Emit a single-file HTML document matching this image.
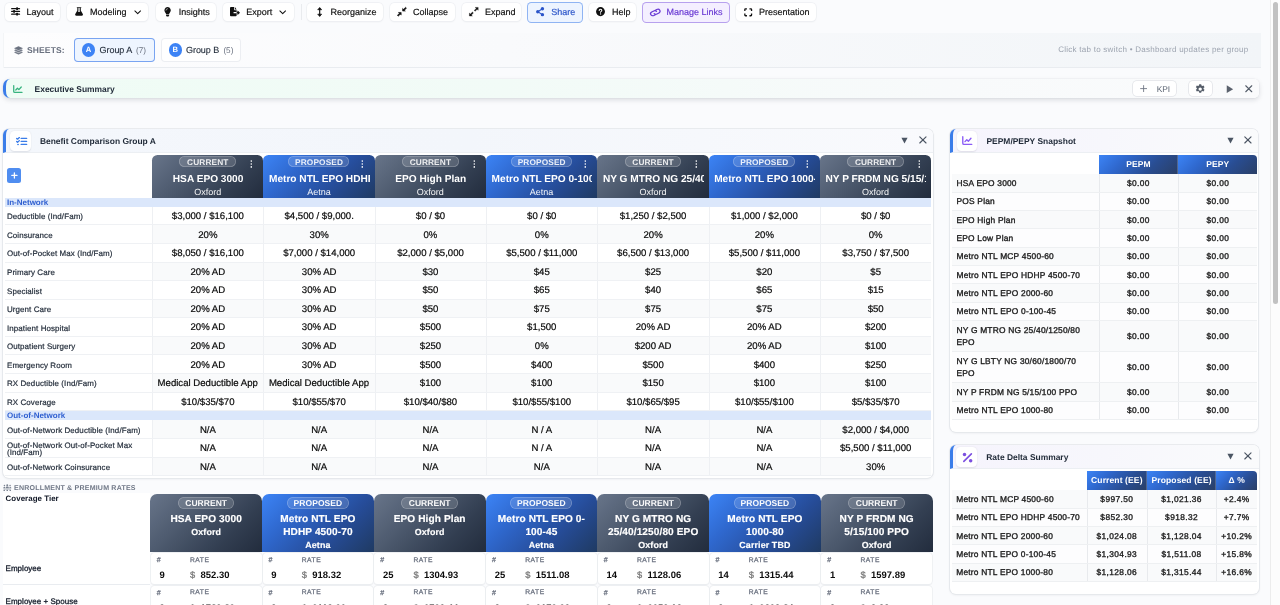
<!DOCTYPE html>
<html lang="en"><head><meta charset="utf-8"><title>Benefit Comparison Dashboard</title><style>
*{box-sizing:border-box}
html,body{margin:0;padding:0}
body{width:1280px;height:605px;overflow:hidden;position:relative;background:#fafbfd;font-family:"Liberation Sans",sans-serif;color:#111827;text-rendering:geometricPrecision}
div,svg,span{position:absolute}
.ic{display:block;overflow:visible}
.t{white-space:nowrap;line-height:1}
.m{-webkit-text-stroke:.28px currentColor}
.btn{background:#fff;border-radius:4.500px;box-shadow:0 0 0 .7px #eef0f3,0 .8px 1.800px rgba(16,24,40,.07);color:#111}
.btn.blue{background:#edf4ff;box-shadow:inset 0 0 0 1px #8fb4f3;color:#2b55c9}
.btn.pur{background:#f4efff;box-shadow:inset 0 0 0 1px #b7a1ee;color:#6a3ad4}

#sheets{background:linear-gradient(90deg,#fdfdfe 0%,#f9fafc 40%,#f2f5f8 100%);box-shadow:inset 1px 0 0 #f3f5f7,inset 0 -1px 0 #e9ecf0}
.tab{border-radius:4px;color:#1f2937}
.tab i{position:absolute;border-radius:50%;background:#3d83f5;color:#fff;font-weight:bold;font-style:normal;font-size:7.600px;text-align:center}

#exec{border-radius:7px 5px 5px 7px;background:linear-gradient(90deg,#effcf5 0%,#f2fbf7 40%,#f8fafb 75%,#fafbfc 100%);border-left:3px solid #3b7de9;box-shadow:0 2px 5px rgba(15,23,42,.13),0 0 0 .5px rgba(15,23,42,.04)}
.sbtn{background:#fff;border-radius:4px;box-shadow:0 0 0 .8px #e2e4e8}

.panel{background:#fff;border-radius:6px;box-shadow:0 0 0 .8px #e3e6ea,0 1px 3px rgba(15,23,42,.08)}
.ph{border-radius:6px 6px 0 0;border-left:3px solid #3b7de9;border-bottom:1px solid #eceff3}
.ib{border-radius:4.500px;background:#fff;box-shadow:0 .5px 1.600px rgba(15,23,42,.10)}
.ttl{font-weight:bold;color:#1f2937}

.gc{background:linear-gradient(135deg,#68758a 0%,#4a576b 40%,#333f52 70%,#222c3d 100%)}
.gp{background:linear-gradient(135deg,#3c84f6 0%,#2f68ce 30%,#264c98 66%,#1f3a62 100%)}
.ch{color:#fff;overflow:hidden}
.badge{border-radius:7px;background:rgba(255,255,255,.14);box-shadow:inset 0 0 0 .8px rgba(255,255,255,.26)}
.bt{font-weight:bold;color:rgba(255,255,255,.88)}
.nm{font-weight:bold;overflow:hidden;color:#fff}
.cr{color:rgba(255,255,255,.94)}
.sec{background:#dbe7fb;color:#2f5fd0}
.sec .t{font-weight:bold}
.row{border-bottom:1px solid #eff1f4;background:#fff}
.row u{position:absolute;top:0;bottom:0;text-decoration:none;border-left:1px solid #eef0f3}
.row u.a{background:#f9fafb}
.lb{color:#1f2937;letter-spacing:.1px;-webkit-text-stroke-width:.2px}
.v{color:#0a0a0a;overflow:hidden;text-align:center;-webkit-text-stroke:.2px #0a0a0a}

.c0{background:#fff;border-bottom:1px solid #e9ecf0}
.cell{background:#fff;border-radius:3.500px;box-shadow:0 0 0 .7px #eceef1,0 .9px 1.600px rgba(15,23,42,.08)}
.hh{color:#6b7280;letter-spacing:.6px}
.n{font-weight:bold;color:#0b0b0b}
.d{color:#787878;-webkit-text-stroke:.25px #787878}
.nm2{font-weight:bold;color:#fff;letter-spacing:.1px;-webkit-text-stroke:.15px #fff}

.hc{color:#fff;background:linear-gradient(135deg,#3c84f6 0%,#2f68ce 30%,#294d92 66%,#2a3f66 100%)}
.hc .t{font-weight:bold;text-align:center;left:0;right:0}
.rr{border-bottom:1px solid #eef0f2;background:#fdfdfe}
.rr.alt{background:#f9fafb}
.rr u{position:absolute;top:0;bottom:0;text-decoration:none;border-left:1px solid #e8eaed}
.l{color:#1a1a1a;letter-spacing:.21px;-webkit-text-stroke-width:.33px}
.rv{color:#1a1a1a;letter-spacing:.38px;text-align:center;-webkit-text-stroke-width:.33px}

#sbt{background:#fcfcfc;box-shadow:inset 1px 0 0 #ececec}
#sbh{border-radius:3px;background:#c1c1c1}
</style></head><body>
<div id="toolbar" style="left:0;top:0;width:1270px;height:24px">
<div class="btn " style="left:4.8px;top:2.7px;width:54.8px;height:18.7px"><svg class="ic" viewBox="0 0 16 16" preserveAspectRatio="none" style="left:6px;top:4.4px;width:9.2px;height:8.8px"><g fill="none" stroke="currentColor" stroke-width="2.500" stroke-linecap="round"><path d="M1.300 3h13.400M1.300 8h13.400M1.300 13h13.400"/></g><g fill="currentColor"><rect x="9" y=".6" width="3.200" height="4.800" rx="1"/><rect x="3.800" y="5.600" width="3.200" height="4.800" rx="1"/><rect x="9" y="10.600" width="3.200" height="4.800" rx="1"/></g></svg><span class="t m" style="left:21.7px;top:5.3px;font-size:9.0px;-webkit-text-stroke-width:.18px;">Layout</span></div>
<div class="btn " style="left:66.9px;top:2.7px;width:81.3px;height:18.7px"><svg class="ic" viewBox="0 0 14 16" preserveAspectRatio="none" style="left:7.8px;top:4.6px;width:8.1px;height:8.9px"><path fill="currentColor" d="M3.600.3h6.800c.5 0 .8.400.8.800s-.3.800-.8.800H10v4.300l3.500 6.400c.8 1.400-.2 3.100-1.800 3.100H2.300C.7 15.700-.3 14 .5 12.600L4 6.200V1.900h-.4c-.5 0-.8-.4-.8-.8s.3-.8.800-.8z"/><path fill="#fff" d="M5.900 1.900h2.200v4.800l1.100 2H4.800l1.100-2z"/></svg><span class="t m" style="left:23.1px;top:5.3px;font-size:9.0px;-webkit-text-stroke-width:.18px;">Modeling</span><svg class="ic" viewBox="0 0 12 8" preserveAspectRatio="none" style="left:66.8px;top:7.1px;width:7.4px;height:4.7px"><path fill="none" stroke="currentColor" stroke-width="1.700" stroke-linecap="round" stroke-linejoin="round" d="M1.400 1.600 6 6.200l4.600-4.600"/></svg></div>
<div class="btn " style="left:155.6px;top:2.7px;width:60.2px;height:18.7px"><svg class="ic" viewBox="0 0 12 16" preserveAspectRatio="none" style="left:8.4px;top:4.3px;width:7.2px;height:9.6px"><path fill="currentColor" d="M6 .2a5.300 5.300 0 0 0-4 8.800c.7.8 1.300 1.700 1.400 2.700v.3h5.200v-.3c.1-1 .7-1.900 1.400-2.700A5.300 5.300 0 0 0 6 .2zM3.400 13h5.200v1c0 .3-.1.600-.3.800l-.5.700c-.2.300-.5.500-.900.500H5.100c-.4 0-.7-.2-.9-.5l-.5-.7c-.2-.2-.3-.5-.3-.8z"/><path fill="none" stroke="#fff" stroke-width=".9" stroke-linecap="round" d="M3.300 5.300a2.700 2.700 0 0 1 2.600-2.600"/></svg><span class="t m" style="left:23.1px;top:5.3px;font-size:9.0px;-webkit-text-stroke-width:.18px;">Insights</span></div>
<div class="btn " style="left:223px;top:2.7px;width:70.8px;height:18.7px"><svg class="ic" viewBox="0 0 18 16" preserveAspectRatio="none" style="left:7.4px;top:4.5px;width:10px;height:9.2px"><path fill="currentColor" d="M0 1.600C0 .7.700 0 1.600 0h5.800v4.300c0 .7.500 1.200 1.200 1.200H12v3.400H7.300c-.7 0-1.200.5-1.200 1.100s.5 1.100 1.200 1.100H12v3.300c0 .9-.7 1.600-1.600 1.600H1.600C.7 16 0 15.300 0 14.400zM12 4.200H8.800V.2zM13.300 6.900c0-.5.600-.7.900-.4l3.400 3.100c.3.200.3.600 0 .800l-3.400 3.100c-.3.300-.9.100-.9-.4v-2H12V8.900h1.300z"/></svg><span class="t m" style="left:23.2px;top:5.3px;font-size:9.0px;-webkit-text-stroke-width:.18px;">Export</span><svg class="ic" viewBox="0 0 12 8" preserveAspectRatio="none" style="left:56.4px;top:7.1px;width:7.4px;height:4.7px"><path fill="none" stroke="currentColor" stroke-width="1.700" stroke-linecap="round" stroke-linejoin="round" d="M1.400 1.600 6 6.200l4.600-4.600"/></svg></div>
<div style="left:301.4px;top:4px;width:1px;height:16px;background:#e9ebee"></div>
<div class="btn " style="left:307.4px;top:2.7px;width:75.8px;height:18.7px"><svg class="ic" viewBox="0 0 8 16" preserveAspectRatio="none" style="left:9.5px;top:4.2px;width:5.4px;height:9.9px"><path fill="none" stroke="currentColor" stroke-width="1.700" stroke-linecap="round" stroke-linejoin="round" d="M4 2v12"/><path fill="currentColor" stroke="currentColor" stroke-width="1" stroke-linejoin="round" d="M4 .8 7 4.400H1zM4 15.200 7 11.600H1z"/></svg><span class="t m" style="left:23.2px;top:5.3px;font-size:9.0px;-webkit-text-stroke-width:.18px;">Reorganize</span></div>
<div class="btn " style="left:390px;top:2.7px;width:64.6px;height:18.7px"><svg class="ic" viewBox="0 0 16 16" preserveAspectRatio="none" style="left:7.2px;top:4.4px;width:9.8px;height:9.5px"><g fill="currentColor" stroke="currentColor" stroke-width="1" stroke-linejoin="round"><path d="M9.200 6.800V2.400l1.500 1.500L14 .6 15.400 2l-3.300 3.300 1.500 1.500z"/><path d="M6.800 9.200v4.400l-1.500-1.500L2 15.400.6 14l3.300-3.300-1.500-1.500z"/></g></svg><span class="t m" style="left:23px;top:5.3px;font-size:9.0px;-webkit-text-stroke-width:.18px;">Collapse</span></div>
<div class="btn " style="left:461.8px;top:2.7px;width:59px;height:18.7px"><svg class="ic" viewBox="0 0 16 16" preserveAspectRatio="none" style="left:6.8px;top:4.5px;width:9.6px;height:9.4px"><g fill="currentColor" stroke="currentColor" stroke-width=".6" stroke-linejoin="round"><path d="M15.300.7v4.900l-1.700-1.700-3.400 3.400-1.500-1.500 3.400-3.400L10.400.7z"/><path d="M.7 15.300v-4.900l1.700 1.700 3.400-3.400 1.500 1.500-3.400 3.400 1.700 1.700z"/></g></svg><span class="t m" style="left:23.2px;top:5.3px;font-size:9.0px;-webkit-text-stroke-width:.18px;">Expand</span></div>
<div class="btn blue" style="left:527.2px;top:2.2px;width:55.6px;height:20.4px"><svg class="ic" viewBox="0 0 14 16" preserveAspectRatio="none" style="left:8.6px;top:5px;width:8.2px;height:9.4px"><g fill="currentColor"><circle cx="11" cy="3" r="2.900"/><circle cx="3" cy="8" r="2.900"/><circle cx="11" cy="13" r="2.900"/></g><path fill="none" stroke="currentColor" stroke-width="1.800" d="M11 3 3 8l8 5"/></svg><span class="t m" style="left:24px;top:5.8px;font-size:9.0px;-webkit-text-stroke-width:.18px;">Share</span></div>
<div class="btn " style="left:589.2px;top:2.7px;width:46.6px;height:18.7px"><svg class="ic" viewBox="0 0 16 16" preserveAspectRatio="none" style="left:7px;top:4.5px;width:9px;height:9.2px"><circle cx="8" cy="8" r="7.900" fill="currentColor"/><path fill="none" stroke="#fff" stroke-width="1.900" stroke-linecap="round" d="M5.700 6c0-1.300 1-2.100 2.300-2.100s2.300.8 2.300 2c0 1.600-2.200 1.700-2.200 3.300"/><circle cx="8.100" cy="12" r="1.200" fill="#fff"/></svg><span class="t m" style="left:22.8px;top:5.3px;font-size:9.0px;-webkit-text-stroke-width:.18px;">Help</span></div>
<div class="btn pur" style="left:642.2px;top:2.2px;width:88px;height:20.4px"><svg class="ic" viewBox="0 0 20 16" preserveAspectRatio="none" style="left:6.5px;top:5.8px;width:12.7px;height:9px"><g fill="none" stroke="currentColor" stroke-width="2.100" stroke-linecap="round" transform="rotate(-30 10 8)"><path d="M8.600 11.500H5.400a3.500 3.500 0 0 1 0-7h3.800a3.500 3.500 0 0 1 3.400 2.700"/><path d="M11.400 4.500h3.200a3.500 3.500 0 0 1 0 7h-3.800A3.500 3.500 0 0 1 7.400 8.800"/></g></svg><span class="t m" style="left:24.4px;top:5.8px;font-size:9.0px;-webkit-text-stroke-width:.18px;">Manage Links</span></div>
<div class="btn " style="left:736.2px;top:2.7px;width:79.6px;height:18.7px"><svg class="ic" viewBox="0 0 16 16" preserveAspectRatio="none" style="left:7.7px;top:4.9px;width:8.4px;height:8.6px"><path fill="none" stroke="currentColor" stroke-width="2.500" stroke-linecap="butt" stroke-linejoin="round" d="M1.600 5.600V2.800c0-.7.500-1.200 1.200-1.200h2.800M10.400 1.600h2.800c.7 0 1.200.5 1.200 1.200v2.800M14.400 10.400v2.800c0 .7-.5 1.200-1.200 1.200h-2.800M5.600 14.400H2.800c-.7 0-1.200-.5-1.200-1.200v-2.800"/></svg><span class="t m" style="left:22.8px;top:5.3px;font-size:9.0px;-webkit-text-stroke-width:.18px;">Presentation</span></div>
</div>
<div id="sheets" style="left:2.500px;top:33.300px;width:1258px;height:34.700px">
<svg class="ic" viewBox="0 0 16 16" preserveAspectRatio="none" style="left:11.4px;top:12.3px;width:9px;height:8.8px;color:#6b7280"><g fill="currentColor" stroke="currentColor" stroke-width="1" stroke-linejoin="round"><path d="M8 1 15 4.300 8 7.600 1 4.300z"/><path d="M2.800 7 8 9.400 13.200 7 15 7.900 8 11.200 1 7.900z"/><path d="M2.800 10.700 8 13.100l5.200-2.400 1.800.9L8 14.900 1 11.600z"/></g></svg>
<span class="t" style="left:24.5px;top:12.7px;font-size:8.5px;font-weight:bold;color:#6b7280;letter-spacing:.12px">SHEETS:</span>
<div class="tab" style="left:71px;top:4.7px;width:81.1px;height:23.800px;background:#eef5ff;box-shadow:inset 0 0 0 1px #79a4f1"><i style="left:8.4px;top:5.2px;width:13.400px;height:13.400px;line-height:13.400px">A</i><span class="t m" style="left:26px;top:8px;font-size:9.0px;-webkit-text-stroke-width:.12px;letter-spacing:-.04px;">Group A</span><span class="t" style="left:62.6px;top:9px;font-size:8.2px;color:#6b7280">(7)</span></div>
<div class="tab" style="left:158.8px;top:4.7px;width:79.9px;height:23.800px;background:#fff;box-shadow:inset 0 0 0 1px #eceef2"><i style="left:7.3px;top:5.2px;width:13.400px;height:13.400px;line-height:13.400px">B</i><span class="t m" style="left:24.7px;top:8px;font-size:9.0px;-webkit-text-stroke-width:.12px;letter-spacing:-.04px;">Group B</span><span class="t" style="left:62.1px;top:9px;font-size:8.2px;color:#6b7280">(5)</span></div>
<span class="t" style="left:1055.7px;top:12.7px;font-size:8.0px;color:#9ca3af;letter-spacing:.26px">Click tab to switch • Dashboard updates per group</span>
</div>
<div id="exec" style="left:3.300px;top:78.800px;width:1255.400px;height:19.200px">
<svg class="ic" viewBox="0 0 16 14" preserveAspectRatio="none" style="left:7.1px;top:5.8px;width:9.6px;height:8.2px;color:#36b37e"><g fill="none" stroke="currentColor" stroke-width="2.100" stroke-linecap="round" stroke-linejoin="round"><path d="M1.200 1v10c0 1 .8 1.800 1.800 1.800h12"/><path d="M4.600 8.600 7.400 5.600l2.400 2.300 4-4.500"/></g></svg>
<span class="t" style="left:28.3px;top:6.2px;font-size:8.45px;font-weight:bold;color:#1f2937">Executive Summary</span>
<div class="sbtn" style="left:1126.9px;top:1.9px;width:43.2px;height:15.6px;"></div>
<svg class="ic" viewBox="0 0 10 10" preserveAspectRatio="none" style="left:1134px;top:6.4px;width:7.2px;height:7.2px;color:#6b7280"><path fill="none" stroke="currentColor" stroke-width="1.200" stroke-linecap="round" d="M5 .8v8.400M.8 5h8.400"/></svg>
<span class="t" style="left:1150.4px;top:6.2px;font-size:8.4px;color:#5b6472">KPI</span>
<div class="sbtn" style="left:1182.3px;top:1.9px;width:23px;height:15.6px;"></div>
<svg class="ic" viewBox="0 0 16 16" preserveAspectRatio="none" style="left:1188.6px;top:5.1px;width:10.4px;height:10.2px;color:#555d69"><path fill="currentColor" fill-rule="evenodd" d="M6.500.3h3l.5 2.100c.4.200.8.400 1.200.700l2-.7 1.500 2.600-1.600 1.400c.1.500.1 1 0 1.400l1.600 1.400-1.500 2.600-2-.7c-.4.300-.8.500-1.200.7l-.5 2.100h-3l-.5-2.100c-.4-.2-.8-.4-1.200-.7l-2 .7-1.500-2.600 1.600-1.400c-.1-.5-.1-1 0-1.400L1.300 5l1.500-2.600 2 .7c.4-.3.8-.5 1.200-.7zM8 5.400a2.600 2.600 0 1 0 0 5.200 2.600 2.600 0 0 0 0-5.200z"/></svg>
<svg class="ic" viewBox="0 0 10 10" preserveAspectRatio="none" style="left:1219.3px;top:5.8px;width:7.6px;height:8.4px;color:#5b626d"><path fill="currentColor" d="M1 .4 9.400 5 1 9.600z"/></svg>
<svg class="ic" viewBox="0 0 10 10" preserveAspectRatio="none" style="left:1238.5px;top:6.2px;width:7.5px;height:7.5px;color:#555d69"><path fill="none" stroke="currentColor" stroke-width="1.450" stroke-linecap="round" d="M1 1l8 8M9 1 1 9"/></svg>
</div>
<div class="panel" id="benefit" style="left:3.3px;top:128.9px;width:929.6px;height:349.0px">
<div class="ph" style="left:0;top:0;width:929.6px;height:24.300px;background:linear-gradient(90deg,#f4f7fc 0%,#f3f6fb 50%,#f9fafd 100%)"><div class="ib" style="left:3.5px;top:2.2px;width:20.9px;height:20.2px;"></div><svg class="ic" viewBox="0 0 16 14" preserveAspectRatio="none" style="left:9.3px;top:7.7px;width:11.2px;height:8.8px;color:#3b7de9"><g fill="none" stroke="currentColor" stroke-width="2" stroke-linecap="round" stroke-linejoin="round"><path d="M1 2.300l1.200 1.200L4.800.9M1 7.100l1.200 1.200 2.600-2.600M7.400 2.300h7.800M7.400 7.100h7.800M7.400 11.900h7.800"/></g><circle cx="2.900" cy="11.900" r="1.300" fill="currentColor"/></svg><span class="t ttl" style="left:33.6px;top:8.1px;font-size:8.45px;">Benefit Comparison Group A</span><svg class="ic" viewBox="0 0 10 10" preserveAspectRatio="none" style="left:894.8px;top:8.2px;width:7px;height:7px;color:#4b5563"><path fill="currentColor" d="M.6 1.200h8.800L5 9.400z"/></svg><svg class="ic" viewBox="0 0 10 10" preserveAspectRatio="none" style="left:912.3px;top:7.4px;width:7.8px;height:7.8px;color:#4b5563"><path fill="none" stroke="currentColor" stroke-width="1.450" stroke-linecap="round" d="M1 1l8 8M9 1 1 9"/></svg></div>
<div style="left:3.7px;top:39.4px;width:14.2px;height:14.6px;border-radius:2.500px;background:#4f8df0"></div>
<svg class="ic" viewBox="0 0 10 10" preserveAspectRatio="none" style="left:7.4px;top:43.3px;width:6.8px;height:6.8px;color:#fff"><path fill="none" stroke="currentColor" stroke-width="1.900" stroke-linecap="round" d="M5 1.200v7.600M1.200 5h7.600"/></svg>
<div class="ch gc" style="left:148.8px;top:26.4px;width:111.3px;height:42.7px;border-radius:5.500px 5.500px 0 0"><div class="badge" style="left:27.3px;top:1px;width:56.7px;height:11.2px;"></div><span class="t bt" style="left:0px;top:2.7px;font-size:8.3px;width:111.3px;text-align:center;letter-spacing:.12px;text-indent:.1px;">CURRENT</span><svg class="ic" viewBox="0 0 4 12" preserveAspectRatio="none" style="left:97.9px;top:5.1px;width:2.6px;height:8px;color:#fff"><g fill="currentColor"><circle cx="2" cy="1.600" r="1.250"/><circle cx="2" cy="6" r="1.250"/><circle cx="2" cy="10.400" r="1.250"/></g></svg><span class="t nm" style="left:5.6px;top:19.7px;font-size:10.15px;width:100.8px;text-align:center;padding:2px 0;margin-top:-2px;">HSA EPO 3000</span><span class="t cr" style="left:0px;top:32.7px;font-size:9.0px;width:111.3px;text-align:center;">Oxford</span></div>
<div class="ch gp" style="left:260.1px;top:26.4px;width:111.3px;height:42.7px;border-radius:5.500px 5.500px 0 0"><div class="badge" style="left:24.65px;top:1px;width:61.4px;height:11.2px;"></div><span class="t bt" style="left:0px;top:2.7px;font-size:8.3px;width:111.3px;text-align:center;letter-spacing:.12px;text-indent:.1px;">PROPOSED</span><svg class="ic" viewBox="0 0 4 12" preserveAspectRatio="none" style="left:97.9px;top:5.1px;width:2.6px;height:8px;color:#fff"><g fill="currentColor"><circle cx="2" cy="1.600" r="1.250"/><circle cx="2" cy="6" r="1.250"/><circle cx="2" cy="10.400" r="1.250"/></g></svg><span class="t nm" style="left:5.6px;top:19.7px;font-size:10.15px;width:100.8px;text-align:center;padding:2px 0;margin-top:-2px;">Metro NTL EPO HDHP 4500-70</span><span class="t cr" style="left:0px;top:32.7px;font-size:9.0px;width:111.3px;text-align:center;">Aetna</span></div>
<div class="ch gc" style="left:371.4px;top:26.4px;width:111.3px;height:42.7px;border-radius:5.500px 5.500px 0 0"><div class="badge" style="left:27.3px;top:1px;width:56.7px;height:11.2px;"></div><span class="t bt" style="left:0px;top:2.7px;font-size:8.3px;width:111.3px;text-align:center;letter-spacing:.12px;text-indent:.1px;">CURRENT</span><svg class="ic" viewBox="0 0 4 12" preserveAspectRatio="none" style="left:97.9px;top:5.1px;width:2.6px;height:8px;color:#fff"><g fill="currentColor"><circle cx="2" cy="1.600" r="1.250"/><circle cx="2" cy="6" r="1.250"/><circle cx="2" cy="10.400" r="1.250"/></g></svg><span class="t nm" style="left:5.6px;top:19.7px;font-size:10.15px;width:100.8px;text-align:center;padding:2px 0;margin-top:-2px;">EPO High Plan</span><span class="t cr" style="left:0px;top:32.7px;font-size:9.0px;width:111.3px;text-align:center;">Oxford</span></div>
<div class="ch gp" style="left:482.7px;top:26.4px;width:111.3px;height:42.7px;border-radius:5.500px 5.500px 0 0"><div class="badge" style="left:24.65px;top:1px;width:61.4px;height:11.2px;"></div><span class="t bt" style="left:0px;top:2.7px;font-size:8.3px;width:111.3px;text-align:center;letter-spacing:.12px;text-indent:.1px;">PROPOSED</span><svg class="ic" viewBox="0 0 4 12" preserveAspectRatio="none" style="left:97.9px;top:5.1px;width:2.6px;height:8px;color:#fff"><g fill="currentColor"><circle cx="2" cy="1.600" r="1.250"/><circle cx="2" cy="6" r="1.250"/><circle cx="2" cy="10.400" r="1.250"/></g></svg><span class="t nm" style="left:5.6px;top:19.7px;font-size:10.15px;width:100.8px;text-align:center;padding:2px 0;margin-top:-2px;">Metro NTL EPO 0-100-45</span><span class="t cr" style="left:0px;top:32.7px;font-size:9.0px;width:111.3px;text-align:center;">Aetna</span></div>
<div class="ch gc" style="left:594px;top:26.4px;width:111.3px;height:42.7px;border-radius:5.500px 5.500px 0 0"><div class="badge" style="left:27.3px;top:1px;width:56.7px;height:11.2px;"></div><span class="t bt" style="left:0px;top:2.7px;font-size:8.3px;width:111.3px;text-align:center;letter-spacing:.12px;text-indent:.1px;">CURRENT</span><svg class="ic" viewBox="0 0 4 12" preserveAspectRatio="none" style="left:97.9px;top:5.1px;width:2.6px;height:8px;color:#fff"><g fill="currentColor"><circle cx="2" cy="1.600" r="1.250"/><circle cx="2" cy="6" r="1.250"/><circle cx="2" cy="10.400" r="1.250"/></g></svg><span class="t nm" style="left:5.6px;top:19.7px;font-size:10.15px;width:100.8px;text-align:center;padding:2px 0;margin-top:-2px;">NY G MTRO NG 25/40/1250/80 EPO</span><span class="t cr" style="left:0px;top:32.7px;font-size:9.0px;width:111.3px;text-align:center;">Oxford</span></div>
<div class="ch gp" style="left:705.3px;top:26.4px;width:111.3px;height:42.7px;border-radius:5.500px 5.500px 0 0"><div class="badge" style="left:24.65px;top:1px;width:61.4px;height:11.2px;"></div><span class="t bt" style="left:0px;top:2.7px;font-size:8.3px;width:111.3px;text-align:center;letter-spacing:.12px;text-indent:.1px;">PROPOSED</span><svg class="ic" viewBox="0 0 4 12" preserveAspectRatio="none" style="left:97.9px;top:5.1px;width:2.6px;height:8px;color:#fff"><g fill="currentColor"><circle cx="2" cy="1.600" r="1.250"/><circle cx="2" cy="6" r="1.250"/><circle cx="2" cy="10.400" r="1.250"/></g></svg><span class="t nm" style="left:5.6px;top:19.7px;font-size:10.15px;width:100.8px;text-align:center;padding:2px 0;margin-top:-2px;">Metro NTL EPO 1000-80</span></div>
<div class="ch gc" style="left:816.6px;top:26.4px;width:111.3px;height:42.7px;border-radius:5.500px 5.500px 0 0"><div class="badge" style="left:27.3px;top:1px;width:56.7px;height:11.2px;"></div><span class="t bt" style="left:0px;top:2.7px;font-size:8.3px;width:111.3px;text-align:center;letter-spacing:.12px;text-indent:.1px;">CURRENT</span><svg class="ic" viewBox="0 0 4 12" preserveAspectRatio="none" style="left:97.9px;top:5.1px;width:2.6px;height:8px;color:#fff"><g fill="currentColor"><circle cx="2" cy="1.600" r="1.250"/><circle cx="2" cy="6" r="1.250"/><circle cx="2" cy="10.400" r="1.250"/></g></svg><span class="t nm" style="left:5.6px;top:19.7px;font-size:10.15px;width:100.8px;text-align:center;padding:2px 0;margin-top:-2px;">NY P FRDM NG 5/15/100 PPO</span><span class="t cr" style="left:0px;top:32.7px;font-size:9.0px;width:111.3px;text-align:center;">Oxford</span></div>
<div class="sec" style="left:2.2px;top:69.3px;width:925.9px;height:8.74px"><span class="t" style="left:1.5px;top:0.8px;font-size:8.0px;">In-Network</span></div>
<div class="row" style="left:2.2px;top:78.04px;width:925.9px;height:18.56px"><u style="left:146.6px;width:111.3px"></u><u style="left:257.9px;width:111.3px"></u><u style="left:369.2px;width:111.3px"></u><u style="left:480.5px;width:111.3px"></u><u style="left:591.8px;width:111.3px"></u><u style="left:703.1px;width:111.3px"></u><u style="left:814.4px;width:111.5px"></u><span class="t lb m" style="left:1.5px;top:6.06px;font-size:7.95px;">Deductible (Ind/Fam)</span><span class="t v" style="left:152.1px;top:5.06px;font-size:9.6px;width:100.6px;padding:2px 0;margin-top:-2px;">$3,000 / $16,100</span><span class="t v" style="left:263.4px;top:5.06px;font-size:9.6px;width:100.6px;padding:2px 0;margin-top:-2px;">$4,500 / $9,000.</span><span class="t v" style="left:374.7px;top:5.06px;font-size:9.6px;width:100.6px;padding:2px 0;margin-top:-2px;">$0 / $0</span><span class="t v" style="left:486px;top:5.06px;font-size:9.6px;width:100.6px;padding:2px 0;margin-top:-2px;">$0 / $0</span><span class="t v" style="left:597.3px;top:5.06px;font-size:9.6px;width:100.6px;padding:2px 0;margin-top:-2px;">$1,250 / $2,500</span><span class="t v" style="left:708.6px;top:5.06px;font-size:9.6px;width:100.6px;padding:2px 0;margin-top:-2px;">$1,000 / $2,000</span><span class="t v" style="left:819.9px;top:5.06px;font-size:9.6px;width:100.6px;padding:2px 0;margin-top:-2px;">$0 / $0</span></div>
<div class="row" style="left:2.2px;top:96.6px;width:925.9px;height:18.56px"><u class=a style="left:146.6px;width:111.3px"></u><u class=a style="left:257.9px;width:111.3px"></u><u class=a style="left:369.2px;width:111.3px"></u><u class=a style="left:480.5px;width:111.3px"></u><u class=a style="left:591.8px;width:111.3px"></u><u class=a style="left:703.1px;width:111.3px"></u><u class=a style="left:814.4px;width:111.5px"></u><span class="t lb m" style="left:1.5px;top:6.5px;font-size:7.95px;">Coinsurance</span><span class="t v" style="left:152.1px;top:5.5px;font-size:9.6px;width:100.6px;padding:2px 0;margin-top:-2px;">20%</span><span class="t v" style="left:263.4px;top:5.5px;font-size:9.6px;width:100.6px;padding:2px 0;margin-top:-2px;">30%</span><span class="t v" style="left:374.7px;top:5.5px;font-size:9.6px;width:100.6px;padding:2px 0;margin-top:-2px;">0%</span><span class="t v" style="left:486px;top:5.5px;font-size:9.6px;width:100.6px;padding:2px 0;margin-top:-2px;">0%</span><span class="t v" style="left:597.3px;top:5.5px;font-size:9.6px;width:100.6px;padding:2px 0;margin-top:-2px;">20%</span><span class="t v" style="left:708.6px;top:5.5px;font-size:9.6px;width:100.6px;padding:2px 0;margin-top:-2px;">20%</span><span class="t v" style="left:819.9px;top:5.5px;font-size:9.6px;width:100.6px;padding:2px 0;margin-top:-2px;">0%</span></div>
<div class="row" style="left:2.2px;top:115.16px;width:925.9px;height:18.56px"><u style="left:146.6px;width:111.3px"></u><u style="left:257.9px;width:111.3px"></u><u style="left:369.2px;width:111.3px"></u><u style="left:480.5px;width:111.3px"></u><u style="left:591.8px;width:111.3px"></u><u style="left:703.1px;width:111.3px"></u><u style="left:814.4px;width:111.5px"></u><span class="t lb m" style="left:1.5px;top:5.94px;font-size:7.95px;">Out-of-Pocket Max (Ind/Fam)</span><span class="t v" style="left:152.1px;top:4.94px;font-size:9.6px;width:100.6px;padding:2px 0;margin-top:-2px;">$8,050 / $16,100</span><span class="t v" style="left:263.4px;top:4.94px;font-size:9.6px;width:100.6px;padding:2px 0;margin-top:-2px;">$7,000 / $14,000</span><span class="t v" style="left:374.7px;top:4.94px;font-size:9.6px;width:100.6px;padding:2px 0;margin-top:-2px;">$2,000 / $5,000</span><span class="t v" style="left:486px;top:4.94px;font-size:9.6px;width:100.6px;padding:2px 0;margin-top:-2px;">$5,500 / $11,000</span><span class="t v" style="left:597.3px;top:4.94px;font-size:9.6px;width:100.6px;padding:2px 0;margin-top:-2px;">$6,500 / $13,000</span><span class="t v" style="left:708.6px;top:4.94px;font-size:9.6px;width:100.6px;padding:2px 0;margin-top:-2px;">$5,500 / $11,000</span><span class="t v" style="left:819.9px;top:4.94px;font-size:9.6px;width:100.6px;padding:2px 0;margin-top:-2px;">$3,750 / $7,500</span></div>
<div class="row" style="left:2.2px;top:133.72px;width:925.9px;height:18.56px"><u class=a style="left:146.6px;width:111.3px"></u><u class=a style="left:257.9px;width:111.3px"></u><u class=a style="left:369.2px;width:111.3px"></u><u class=a style="left:480.5px;width:111.3px"></u><u class=a style="left:591.8px;width:111.3px"></u><u class=a style="left:703.1px;width:111.3px"></u><u class=a style="left:814.4px;width:111.5px"></u><span class="t lb m" style="left:1.5px;top:6.38px;font-size:7.95px;">Primary Care</span><span class="t v" style="left:152.1px;top:5.38px;font-size:9.6px;width:100.6px;padding:2px 0;margin-top:-2px;">20% AD</span><span class="t v" style="left:263.4px;top:5.38px;font-size:9.6px;width:100.6px;padding:2px 0;margin-top:-2px;">30% AD</span><span class="t v" style="left:374.7px;top:5.38px;font-size:9.6px;width:100.6px;padding:2px 0;margin-top:-2px;">$30</span><span class="t v" style="left:486px;top:5.38px;font-size:9.6px;width:100.6px;padding:2px 0;margin-top:-2px;">$45</span><span class="t v" style="left:597.3px;top:5.38px;font-size:9.6px;width:100.6px;padding:2px 0;margin-top:-2px;">$25</span><span class="t v" style="left:708.6px;top:5.38px;font-size:9.6px;width:100.6px;padding:2px 0;margin-top:-2px;">$20</span><span class="t v" style="left:819.9px;top:5.38px;font-size:9.6px;width:100.6px;padding:2px 0;margin-top:-2px;">$5</span></div>
<div class="row" style="left:2.2px;top:152.28px;width:925.9px;height:18.56px"><u style="left:146.6px;width:111.3px"></u><u style="left:257.9px;width:111.3px"></u><u style="left:369.2px;width:111.3px"></u><u style="left:480.5px;width:111.3px"></u><u style="left:591.8px;width:111.3px"></u><u style="left:703.1px;width:111.3px"></u><u style="left:814.4px;width:111.5px"></u><span class="t lb m" style="left:1.5px;top:6.82px;font-size:7.95px;">Specialist</span><span class="t v" style="left:152.1px;top:4.82px;font-size:9.6px;width:100.6px;padding:2px 0;margin-top:-2px;">20% AD</span><span class="t v" style="left:263.4px;top:4.82px;font-size:9.6px;width:100.6px;padding:2px 0;margin-top:-2px;">30% AD</span><span class="t v" style="left:374.7px;top:4.82px;font-size:9.6px;width:100.6px;padding:2px 0;margin-top:-2px;">$50</span><span class="t v" style="left:486px;top:4.82px;font-size:9.6px;width:100.6px;padding:2px 0;margin-top:-2px;">$65</span><span class="t v" style="left:597.3px;top:4.82px;font-size:9.6px;width:100.6px;padding:2px 0;margin-top:-2px;">$40</span><span class="t v" style="left:708.6px;top:4.82px;font-size:9.6px;width:100.6px;padding:2px 0;margin-top:-2px;">$65</span><span class="t v" style="left:819.9px;top:4.82px;font-size:9.6px;width:100.6px;padding:2px 0;margin-top:-2px;">$15</span></div>
<div class="row" style="left:2.2px;top:170.84px;width:925.9px;height:18.56px"><u class=a style="left:146.6px;width:111.3px"></u><u class=a style="left:257.9px;width:111.3px"></u><u class=a style="left:369.2px;width:111.3px"></u><u class=a style="left:480.5px;width:111.3px"></u><u class=a style="left:591.8px;width:111.3px"></u><u class=a style="left:703.1px;width:111.3px"></u><u class=a style="left:814.4px;width:111.5px"></u><span class="t lb m" style="left:1.5px;top:6.26px;font-size:7.95px;">Urgent Care</span><span class="t v" style="left:152.1px;top:5.26px;font-size:9.6px;width:100.6px;padding:2px 0;margin-top:-2px;">20% AD</span><span class="t v" style="left:263.4px;top:5.26px;font-size:9.6px;width:100.6px;padding:2px 0;margin-top:-2px;">30% AD</span><span class="t v" style="left:374.7px;top:5.26px;font-size:9.6px;width:100.6px;padding:2px 0;margin-top:-2px;">$50</span><span class="t v" style="left:486px;top:5.26px;font-size:9.6px;width:100.6px;padding:2px 0;margin-top:-2px;">$75</span><span class="t v" style="left:597.3px;top:5.26px;font-size:9.6px;width:100.6px;padding:2px 0;margin-top:-2px;">$75</span><span class="t v" style="left:708.6px;top:5.26px;font-size:9.6px;width:100.6px;padding:2px 0;margin-top:-2px;">$75</span><span class="t v" style="left:819.9px;top:5.26px;font-size:9.6px;width:100.6px;padding:2px 0;margin-top:-2px;">$50</span></div>
<div class="row" style="left:2.2px;top:189.4px;width:925.9px;height:18.56px"><u style="left:146.6px;width:111.3px"></u><u style="left:257.9px;width:111.3px"></u><u style="left:369.2px;width:111.3px"></u><u style="left:480.5px;width:111.3px"></u><u style="left:591.8px;width:111.3px"></u><u style="left:703.1px;width:111.3px"></u><u style="left:814.4px;width:111.5px"></u><span class="t lb m" style="left:1.5px;top:6.7px;font-size:7.95px;">Inpatient Hospital</span><span class="t v" style="left:152.1px;top:4.7px;font-size:9.6px;width:100.6px;padding:2px 0;margin-top:-2px;">20% AD</span><span class="t v" style="left:263.4px;top:4.7px;font-size:9.6px;width:100.6px;padding:2px 0;margin-top:-2px;">30% AD</span><span class="t v" style="left:374.7px;top:4.7px;font-size:9.6px;width:100.6px;padding:2px 0;margin-top:-2px;">$500</span><span class="t v" style="left:486px;top:4.7px;font-size:9.6px;width:100.6px;padding:2px 0;margin-top:-2px;">$1,500</span><span class="t v" style="left:597.3px;top:4.7px;font-size:9.6px;width:100.6px;padding:2px 0;margin-top:-2px;">20% AD</span><span class="t v" style="left:708.6px;top:4.7px;font-size:9.6px;width:100.6px;padding:2px 0;margin-top:-2px;">20% AD</span><span class="t v" style="left:819.9px;top:4.7px;font-size:9.6px;width:100.6px;padding:2px 0;margin-top:-2px;">$200</span></div>
<div class="row" style="left:2.2px;top:207.96px;width:925.9px;height:18.56px"><u class=a style="left:146.6px;width:111.3px"></u><u class=a style="left:257.9px;width:111.3px"></u><u class=a style="left:369.2px;width:111.3px"></u><u class=a style="left:480.5px;width:111.3px"></u><u class=a style="left:591.8px;width:111.3px"></u><u class=a style="left:703.1px;width:111.3px"></u><u class=a style="left:814.4px;width:111.5px"></u><span class="t lb m" style="left:1.5px;top:6.14px;font-size:7.95px;">Outpatient Surgery</span><span class="t v" style="left:152.1px;top:5.14px;font-size:9.6px;width:100.6px;padding:2px 0;margin-top:-2px;">20% AD</span><span class="t v" style="left:263.4px;top:5.14px;font-size:9.6px;width:100.6px;padding:2px 0;margin-top:-2px;">30% AD</span><span class="t v" style="left:374.7px;top:5.14px;font-size:9.6px;width:100.6px;padding:2px 0;margin-top:-2px;">$250</span><span class="t v" style="left:486px;top:5.14px;font-size:9.6px;width:100.6px;padding:2px 0;margin-top:-2px;">0%</span><span class="t v" style="left:597.3px;top:5.14px;font-size:9.6px;width:100.6px;padding:2px 0;margin-top:-2px;">$200 AD</span><span class="t v" style="left:708.6px;top:5.14px;font-size:9.6px;width:100.6px;padding:2px 0;margin-top:-2px;">20% AD</span><span class="t v" style="left:819.9px;top:5.14px;font-size:9.6px;width:100.6px;padding:2px 0;margin-top:-2px;">$100</span></div>
<div class="row" style="left:2.2px;top:226.52px;width:925.9px;height:18.56px"><u style="left:146.6px;width:111.3px"></u><u style="left:257.9px;width:111.3px"></u><u style="left:369.2px;width:111.3px"></u><u style="left:480.5px;width:111.3px"></u><u style="left:591.8px;width:111.3px"></u><u style="left:703.1px;width:111.3px"></u><u style="left:814.4px;width:111.5px"></u><span class="t lb m" style="left:1.5px;top:6.58px;font-size:7.95px;">Emergency Room</span><span class="t v" style="left:152.1px;top:5.58px;font-size:9.6px;width:100.6px;padding:2px 0;margin-top:-2px;">20% AD</span><span class="t v" style="left:263.4px;top:5.58px;font-size:9.6px;width:100.6px;padding:2px 0;margin-top:-2px;">30% AD</span><span class="t v" style="left:374.7px;top:5.58px;font-size:9.6px;width:100.6px;padding:2px 0;margin-top:-2px;">$500</span><span class="t v" style="left:486px;top:5.58px;font-size:9.6px;width:100.6px;padding:2px 0;margin-top:-2px;">$400</span><span class="t v" style="left:597.3px;top:5.58px;font-size:9.6px;width:100.6px;padding:2px 0;margin-top:-2px;">$500</span><span class="t v" style="left:708.6px;top:5.58px;font-size:9.6px;width:100.6px;padding:2px 0;margin-top:-2px;">$400</span><span class="t v" style="left:819.9px;top:5.58px;font-size:9.6px;width:100.6px;padding:2px 0;margin-top:-2px;">$250</span></div>
<div class="row" style="left:2.2px;top:245.08px;width:925.9px;height:18.56px"><u class=a style="left:146.6px;width:111.3px"></u><u class=a style="left:257.9px;width:111.3px"></u><u class=a style="left:369.2px;width:111.3px"></u><u class=a style="left:480.5px;width:111.3px"></u><u class=a style="left:591.8px;width:111.3px"></u><u class=a style="left:703.1px;width:111.3px"></u><u class=a style="left:814.4px;width:111.5px"></u><span class="t lb m" style="left:1.5px;top:6.02px;font-size:7.95px;">RX Deductible (Ind/Fam)</span><span class="t v" style="left:152.1px;top:5.02px;font-size:9.6px;width:100.6px;padding:2px 0;margin-top:-2px;">Medical Deductible Applies</span><span class="t v" style="left:263.4px;top:5.02px;font-size:9.6px;width:100.6px;padding:2px 0;margin-top:-2px;">Medical Deductible Applies</span><span class="t v" style="left:374.7px;top:5.02px;font-size:9.6px;width:100.6px;padding:2px 0;margin-top:-2px;">$100</span><span class="t v" style="left:486px;top:5.02px;font-size:9.6px;width:100.6px;padding:2px 0;margin-top:-2px;">$100</span><span class="t v" style="left:597.3px;top:5.02px;font-size:9.6px;width:100.6px;padding:2px 0;margin-top:-2px;">$150</span><span class="t v" style="left:708.6px;top:5.02px;font-size:9.6px;width:100.6px;padding:2px 0;margin-top:-2px;">$100</span><span class="t v" style="left:819.9px;top:5.02px;font-size:9.6px;width:100.6px;padding:2px 0;margin-top:-2px;">$100</span></div>
<div class="row" style="left:2.2px;top:263.64px;width:925.9px;height:18.56px"><u style="left:146.6px;width:111.3px"></u><u style="left:257.9px;width:111.3px"></u><u style="left:369.2px;width:111.3px"></u><u style="left:480.5px;width:111.3px"></u><u style="left:591.8px;width:111.3px"></u><u style="left:703.1px;width:111.3px"></u><u style="left:814.4px;width:111.5px"></u><span class="t lb m" style="left:1.5px;top:6.46px;font-size:7.95px;">RX Coverage</span><span class="t v" style="left:152.1px;top:5.46px;font-size:9.6px;width:100.6px;padding:2px 0;margin-top:-2px;">$10/$35/$70</span><span class="t v" style="left:263.4px;top:5.46px;font-size:9.6px;width:100.6px;padding:2px 0;margin-top:-2px;">$10/$55/$70</span><span class="t v" style="left:374.7px;top:5.46px;font-size:9.6px;width:100.6px;padding:2px 0;margin-top:-2px;">$10/$40/$80</span><span class="t v" style="left:486px;top:5.46px;font-size:9.6px;width:100.6px;padding:2px 0;margin-top:-2px;">$10/$55/$100</span><span class="t v" style="left:597.3px;top:5.46px;font-size:9.6px;width:100.6px;padding:2px 0;margin-top:-2px;">$10/$65/$95</span><span class="t v" style="left:708.6px;top:5.46px;font-size:9.6px;width:100.6px;padding:2px 0;margin-top:-2px;">$10/$55/$100</span><span class="t v" style="left:819.9px;top:5.46px;font-size:9.6px;width:100.6px;padding:2px 0;margin-top:-2px;">$5/$35/$70</span></div>
<div class="sec" style="left:2.2px;top:282.2px;width:925.9px;height:9.4px"><span class="t" style="left:1.5px;top:0.9px;font-size:8.0px;">Out-of-Network</span></div>
<div class="row" style="left:2.2px;top:291.6px;width:925.9px;height:18.56px"><u class=a style="left:146.6px;width:111.3px"></u><u class=a style="left:257.9px;width:111.3px"></u><u class=a style="left:369.2px;width:111.3px"></u><u class=a style="left:480.5px;width:111.3px"></u><u class=a style="left:591.8px;width:111.3px"></u><u class=a style="left:703.1px;width:111.3px"></u><u class=a style="left:814.4px;width:111.5px"></u><span class="t lb m" style="left:1.5px;top:6.5px;font-size:7.95px;">Out-of-Network Deductible (Ind/Fam)</span><span class="t v" style="left:152.1px;top:5.5px;font-size:9.6px;width:100.6px;padding:2px 0;margin-top:-2px;">N/A</span><span class="t v" style="left:263.4px;top:5.5px;font-size:9.6px;width:100.6px;padding:2px 0;margin-top:-2px;">N/A</span><span class="t v" style="left:374.7px;top:5.5px;font-size:9.6px;width:100.6px;padding:2px 0;margin-top:-2px;">N/A</span><span class="t v" style="left:486px;top:5.5px;font-size:9.6px;width:100.6px;padding:2px 0;margin-top:-2px;">N / A</span><span class="t v" style="left:597.3px;top:5.5px;font-size:9.6px;width:100.6px;padding:2px 0;margin-top:-2px;">N/A</span><span class="t v" style="left:708.6px;top:5.5px;font-size:9.6px;width:100.6px;padding:2px 0;margin-top:-2px;">N/A</span><span class="t v" style="left:819.9px;top:5.5px;font-size:9.6px;width:100.6px;padding:2px 0;margin-top:-2px;">$2,000 / $4,000</span></div>
<div class="row" style="left:2.2px;top:310.16px;width:925.9px;height:18.56px"><u style="left:146.6px;width:111.3px"></u><u style="left:257.9px;width:111.3px"></u><u style="left:369.2px;width:111.3px"></u><u style="left:480.5px;width:111.3px"></u><u style="left:591.8px;width:111.3px"></u><u style="left:703.1px;width:111.3px"></u><u style="left:814.4px;width:111.5px"></u><span class="t lb m" style="left:1.5px;top:2.94px;font-size:7.95px;">Out-of-Network Out-of-Pocket Max</span><span class="t lb m" style="left:1.5px;top:9.94px;font-size:7.95px;">(Ind/Fam)</span><span class="t v" style="left:152.1px;top:4.94px;font-size:9.6px;width:100.6px;padding:2px 0;margin-top:-2px;">N/A</span><span class="t v" style="left:263.4px;top:4.94px;font-size:9.6px;width:100.6px;padding:2px 0;margin-top:-2px;">N/A</span><span class="t v" style="left:374.7px;top:4.94px;font-size:9.6px;width:100.6px;padding:2px 0;margin-top:-2px;">N/A</span><span class="t v" style="left:486px;top:4.94px;font-size:9.6px;width:100.6px;padding:2px 0;margin-top:-2px;">N / A</span><span class="t v" style="left:597.3px;top:4.94px;font-size:9.6px;width:100.6px;padding:2px 0;margin-top:-2px;">N/A</span><span class="t v" style="left:708.6px;top:4.94px;font-size:9.6px;width:100.6px;padding:2px 0;margin-top:-2px;">N/A</span><span class="t v" style="left:819.9px;top:4.94px;font-size:9.6px;width:100.6px;padding:2px 0;margin-top:-2px;">$5,500 / $11,000</span></div>
<div class="row" style="left:2.2px;top:328.72px;width:925.9px;height:18.56px"><u class=a style="left:146.6px;width:111.3px"></u><u class=a style="left:257.9px;width:111.3px"></u><u class=a style="left:369.2px;width:111.3px"></u><u class=a style="left:480.5px;width:111.3px"></u><u class=a style="left:591.8px;width:111.3px"></u><u class=a style="left:703.1px;width:111.3px"></u><u class=a style="left:814.4px;width:111.5px"></u><span class="t lb m" style="left:1.5px;top:6.38px;font-size:7.95px;">Out-of-Network Coinsurance</span><span class="t v" style="left:152.1px;top:5.38px;font-size:9.6px;width:100.6px;padding:2px 0;margin-top:-2px;">N/A</span><span class="t v" style="left:263.4px;top:5.38px;font-size:9.6px;width:100.6px;padding:2px 0;margin-top:-2px;">N/A</span><span class="t v" style="left:374.7px;top:5.38px;font-size:9.6px;width:100.6px;padding:2px 0;margin-top:-2px;">N/A</span><span class="t v" style="left:486px;top:5.38px;font-size:9.6px;width:100.6px;padding:2px 0;margin-top:-2px;">N/A</span><span class="t v" style="left:597.3px;top:5.38px;font-size:9.6px;width:100.6px;padding:2px 0;margin-top:-2px;">N/A</span><span class="t v" style="left:708.6px;top:5.38px;font-size:9.6px;width:100.6px;padding:2px 0;margin-top:-2px;">N/A</span><span class="t v" style="left:819.9px;top:5.38px;font-size:9.6px;width:100.6px;padding:2px 0;margin-top:-2px;">30%</span></div>
</div>
<svg class="ic" viewBox="0 0 20 16" preserveAspectRatio="none" style="left:2.9px;top:483.8px;width:8.5px;height:7.1px;color:#7a8291"><g fill="currentColor"><circle cx="10" cy="2.600" r="2.300"/><circle cx="3.400" cy="3.600" r="1.800"/><circle cx="16.600" cy="3.600" r="1.800"/><path d="M6.200 8.600c0-1.600 1.700-2.700 3.800-2.700s3.800 1.100 3.800 2.700v.9H6.200zM.2 9.500c0-1.700 1.400-3 3.200-3 .7 0 1.300.2 1.800.500-.3.500-.5 1-.5 1.600v.9zM19.800 9.500c0-1.700-1.400-3-3.200-3-.7 0-1.300.2-1.800.5.300.5.500 1 .5 1.600v.9z"/><rect x="1.600" y="10.700" width="16.800" height="1.300"/><rect x="1.200" y="12.900" width="3.400" height="3.100" rx=".5"/><rect x="8.300" y="12.900" width="3.400" height="3.100" rx=".5"/><rect x="15.400" y="12.900" width="3.400" height="3.100" rx=".5"/></g></svg>
<span class="t" style="left:14px;top:485px;font-size:7.05px;font-weight:bold;letter-spacing:.2px;color:#6f7786">ENROLLMENT &amp; PREMIUM RATES</span>
<div id="enroll" style="left:2.7px;top:493.4px;width:930.300px;height:112px">
<div class="c0" style="left:0px;top:0px;width:147.6px;height:59.7px;"></div>
<span class="t" style="left:2.9px;top:1.6px;font-size:7.9px;font-weight:bold;color:#111827;letter-spacing:.05px">Coverage Tier</span>
<div class="ch gc" style="left:147.6px;top:0.7px;width:111.75px;height:58.4px;border-radius:7px 7px 0 0"><div class="badge" style="left:27.35px;top:2.7px;width:56.6px;height:12.2px;"></div><span class="t bt" style="left:0px;top:4.9px;font-size:8.5px;width:111.75px;text-align:center;letter-spacing:.05px;color:rgba(255,255,255,.96);">CURRENT</span><span class="t nm2" style="left:0px;top:20.9px;font-size:10.1px;width:111.75px;text-align:center;">HSA EPO 3000</span><span class="t nm2" style="left:0px;top:33.9px;font-size:8.9px;width:111.75px;text-align:center;letter-spacing:.12px;">Oxford</span></div>
<div class="ch gp" style="left:259.35px;top:0.7px;width:111.75px;height:58.4px;border-radius:7px 7px 0 0"><div class="badge" style="left:24.55px;top:2.7px;width:62.2px;height:12.2px;"></div><span class="t bt" style="left:0px;top:4.9px;font-size:8.5px;width:111.75px;text-align:center;letter-spacing:.05px;color:rgba(255,255,255,.96);">PROPOSED</span><span class="t nm2" style="left:0px;top:20.9px;font-size:10.1px;width:111.75px;text-align:center;">Metro NTL EPO</span><span class="t nm2" style="left:0px;top:33.9px;font-size:10.1px;width:111.75px;text-align:center;">HDHP 4500-70</span><span class="t nm2" style="left:0px;top:46.9px;font-size:8.9px;width:111.75px;text-align:center;letter-spacing:.12px;">Aetna</span></div>
<div class="ch gc" style="left:371.1px;top:0.7px;width:111.75px;height:58.4px;border-radius:7px 7px 0 0"><div class="badge" style="left:27.35px;top:2.7px;width:56.6px;height:12.2px;"></div><span class="t bt" style="left:0px;top:4.9px;font-size:8.5px;width:111.75px;text-align:center;letter-spacing:.05px;color:rgba(255,255,255,.96);">CURRENT</span><span class="t nm2" style="left:0px;top:20.9px;font-size:10.1px;width:111.75px;text-align:center;">EPO High Plan</span><span class="t nm2" style="left:0px;top:33.9px;font-size:8.9px;width:111.75px;text-align:center;letter-spacing:.12px;">Oxford</span></div>
<div class="ch gp" style="left:482.85px;top:0.7px;width:111.75px;height:58.4px;border-radius:7px 7px 0 0"><div class="badge" style="left:24.55px;top:2.7px;width:62.2px;height:12.2px;"></div><span class="t bt" style="left:0px;top:4.9px;font-size:8.5px;width:111.75px;text-align:center;letter-spacing:.05px;color:rgba(255,255,255,.96);">PROPOSED</span><span class="t nm2" style="left:0px;top:20.9px;font-size:10.1px;width:111.75px;text-align:center;">Metro NTL EPO 0-</span><span class="t nm2" style="left:0px;top:33.9px;font-size:10.1px;width:111.75px;text-align:center;">100-45</span><span class="t nm2" style="left:0px;top:46.9px;font-size:8.9px;width:111.75px;text-align:center;letter-spacing:.12px;">Aetna</span></div>
<div class="ch gc" style="left:594.6px;top:0.7px;width:111.75px;height:58.4px;border-radius:7px 7px 0 0"><div class="badge" style="left:27.35px;top:2.7px;width:56.6px;height:12.2px;"></div><span class="t bt" style="left:0px;top:4.9px;font-size:8.5px;width:111.75px;text-align:center;letter-spacing:.05px;color:rgba(255,255,255,.96);">CURRENT</span><span class="t nm2" style="left:0px;top:20.9px;font-size:10.1px;width:111.75px;text-align:center;">NY G MTRO NG</span><span class="t nm2" style="left:0px;top:33.9px;font-size:10.1px;width:111.75px;text-align:center;">25/40/1250/80 EPO</span><span class="t nm2" style="left:0px;top:46.9px;font-size:8.9px;width:111.75px;text-align:center;letter-spacing:.12px;">Oxford</span></div>
<div class="ch gp" style="left:706.35px;top:0.7px;width:111.75px;height:58.4px;border-radius:7px 7px 0 0"><div class="badge" style="left:24.55px;top:2.7px;width:62.2px;height:12.2px;"></div><span class="t bt" style="left:0px;top:4.9px;font-size:8.5px;width:111.75px;text-align:center;letter-spacing:.05px;color:rgba(255,255,255,.96);">PROPOSED</span><span class="t nm2" style="left:0px;top:20.9px;font-size:10.1px;width:111.75px;text-align:center;">Metro NTL EPO</span><span class="t nm2" style="left:0px;top:33.9px;font-size:10.1px;width:111.75px;text-align:center;">1000-80</span><span class="t nm2" style="left:0px;top:46.9px;font-size:8.9px;width:111.75px;text-align:center;letter-spacing:.12px;">Carrier TBD</span></div>
<div class="ch gc" style="left:818.1px;top:0.7px;width:111.75px;height:58.4px;border-radius:7px 7px 0 0"><div class="badge" style="left:27.35px;top:2.7px;width:56.6px;height:12.2px;"></div><span class="t bt" style="left:0px;top:4.9px;font-size:8.5px;width:111.75px;text-align:center;letter-spacing:.05px;color:rgba(255,255,255,.96);">CURRENT</span><span class="t nm2" style="left:0px;top:20.9px;font-size:10.1px;width:111.75px;text-align:center;">NY P FRDM NG</span><span class="t nm2" style="left:0px;top:33.9px;font-size:10.1px;width:111.75px;text-align:center;">5/15/100 PPO</span><span class="t nm2" style="left:0px;top:46.9px;font-size:8.9px;width:111.75px;text-align:center;letter-spacing:.12px;">Oxford</span></div>
<div class="c0" style="left:0px;top:59.1px;width:147.6px;height:32.7px;"></div>
<span class="t m" style="left:2.9px;top:71.6px;font-size:8.0px;color:#111827;letter-spacing:.02px">Employee</span>
<div class="cell" style="left:148.1px;top:59.7px;width:110.75px;height:30.8px"><span class="t hh m" style="left:5.9px;top:3.9px;font-size:7.0px;">#</span><span class="t hh m" style="left:39.1px;top:4.9px;font-size:6.7px;">RATE</span><span class="t n" style="left:8.7px;top:17.9px;font-size:9.45px;">9</span><span class="t d" style="left:39.1px;top:17.9px;font-size:9.3px;">$</span><span class="t n" style="left:49.8px;top:17.9px;font-size:9.45px;">852.30</span></div>
<div class="cell" style="left:259.85px;top:59.7px;width:110.75px;height:30.8px"><span class="t hh m" style="left:5.9px;top:3.9px;font-size:7.0px;">#</span><span class="t hh m" style="left:39.1px;top:4.9px;font-size:6.7px;">RATE</span><span class="t n" style="left:8.7px;top:17.9px;font-size:9.45px;">9</span><span class="t d" style="left:39.1px;top:17.9px;font-size:9.3px;">$</span><span class="t n" style="left:49.8px;top:17.9px;font-size:9.45px;">918.32</span></div>
<div class="cell" style="left:371.6px;top:59.7px;width:110.75px;height:30.8px"><span class="t hh m" style="left:5.9px;top:3.9px;font-size:7.0px;">#</span><span class="t hh m" style="left:39.1px;top:4.9px;font-size:6.7px;">RATE</span><span class="t n" style="left:8.7px;top:17.9px;font-size:9.45px;">25</span><span class="t d" style="left:39.1px;top:17.9px;font-size:9.3px;">$</span><span class="t n" style="left:49.8px;top:17.9px;font-size:9.45px;">1304.93</span></div>
<div class="cell" style="left:483.35px;top:59.7px;width:110.75px;height:30.8px"><span class="t hh m" style="left:5.9px;top:3.9px;font-size:7.0px;">#</span><span class="t hh m" style="left:39.1px;top:4.9px;font-size:6.7px;">RATE</span><span class="t n" style="left:8.7px;top:17.9px;font-size:9.45px;">25</span><span class="t d" style="left:39.1px;top:17.9px;font-size:9.3px;">$</span><span class="t n" style="left:49.8px;top:17.9px;font-size:9.45px;">1511.08</span></div>
<div class="cell" style="left:595.1px;top:59.7px;width:110.75px;height:30.8px"><span class="t hh m" style="left:5.9px;top:3.9px;font-size:7.0px;">#</span><span class="t hh m" style="left:39.1px;top:4.9px;font-size:6.7px;">RATE</span><span class="t n" style="left:8.7px;top:17.9px;font-size:9.45px;">14</span><span class="t d" style="left:39.1px;top:17.9px;font-size:9.3px;">$</span><span class="t n" style="left:49.8px;top:17.9px;font-size:9.45px;">1128.06</span></div>
<div class="cell" style="left:706.85px;top:59.7px;width:110.75px;height:30.8px"><span class="t hh m" style="left:5.9px;top:3.9px;font-size:7.0px;">#</span><span class="t hh m" style="left:39.1px;top:4.9px;font-size:6.7px;">RATE</span><span class="t n" style="left:8.7px;top:17.9px;font-size:9.45px;">14</span><span class="t d" style="left:39.1px;top:17.9px;font-size:9.3px;">$</span><span class="t n" style="left:49.8px;top:17.9px;font-size:9.45px;">1315.44</span></div>
<div class="cell" style="left:818.6px;top:59.7px;width:110.75px;height:30.8px"><span class="t hh m" style="left:5.9px;top:3.9px;font-size:7.0px;">#</span><span class="t hh m" style="left:39.1px;top:4.9px;font-size:6.7px;">RATE</span><span class="t n" style="left:8.7px;top:17.9px;font-size:9.45px;">1</span><span class="t d" style="left:39.1px;top:17.9px;font-size:9.3px;">$</span><span class="t n" style="left:49.8px;top:17.9px;font-size:9.45px;">1597.89</span></div>
<div class="c0" style="left:0px;top:91.8px;width:147.6px;height:32.7px;"></div>
<span class="t m" style="left:2.9px;top:104.6px;font-size:8.0px;color:#111827;letter-spacing:.02px">Employee + Spouse</span>
<div class="cell" style="left:148.1px;top:92.4px;width:110.75px;height:30.8px"><span class="t hh m" style="left:5.9px;top:4.2px;font-size:7.0px;">#</span><span class="t hh m" style="left:39.1px;top:4.2px;font-size:6.7px;">RATE</span><span class="t n" style="left:8.7px;top:18.2px;font-size:9.45px;">0</span><span class="t d" style="left:39.1px;top:18.2px;font-size:9.3px;">$</span><span class="t n" style="left:49.8px;top:18.2px;font-size:9.45px;">1789.83</span></div>
<div class="cell" style="left:259.85px;top:92.4px;width:110.75px;height:30.8px"><span class="t hh m" style="left:5.9px;top:4.2px;font-size:7.0px;">#</span><span class="t hh m" style="left:39.1px;top:4.2px;font-size:6.7px;">RATE</span><span class="t n" style="left:8.7px;top:18.2px;font-size:9.45px;">0</span><span class="t d" style="left:39.1px;top:18.2px;font-size:9.3px;">$</span><span class="t n" style="left:49.8px;top:18.2px;font-size:9.45px;">2110.22</span></div>
<div class="cell" style="left:371.6px;top:92.4px;width:110.75px;height:30.8px"><span class="t hh m" style="left:5.9px;top:4.2px;font-size:7.0px;">#</span><span class="t hh m" style="left:39.1px;top:4.2px;font-size:6.7px;">RATE</span><span class="t n" style="left:8.7px;top:18.2px;font-size:9.45px;">0</span><span class="t d" style="left:39.1px;top:18.2px;font-size:9.3px;">$</span><span class="t n" style="left:49.8px;top:18.2px;font-size:9.45px;">2739.44</span></div>
<div class="cell" style="left:483.35px;top:92.4px;width:110.75px;height:30.8px"><span class="t hh m" style="left:5.9px;top:4.2px;font-size:7.0px;">#</span><span class="t hh m" style="left:39.1px;top:4.2px;font-size:6.7px;">RATE</span><span class="t n" style="left:8.7px;top:18.2px;font-size:9.45px;">0</span><span class="t d" style="left:39.1px;top:18.2px;font-size:9.3px;">$</span><span class="t n" style="left:49.8px;top:18.2px;font-size:9.45px;">3173.29</span></div>
<div class="cell" style="left:595.1px;top:92.4px;width:110.75px;height:30.8px"><span class="t hh m" style="left:5.9px;top:4.2px;font-size:7.0px;">#</span><span class="t hh m" style="left:39.1px;top:4.2px;font-size:6.7px;">RATE</span><span class="t n" style="left:8.7px;top:18.2px;font-size:9.45px;">0</span><span class="t d" style="left:39.1px;top:18.2px;font-size:9.3px;">$</span><span class="t n" style="left:49.8px;top:18.2px;font-size:9.45px;">2359.16</span></div>
<div class="cell" style="left:706.85px;top:92.4px;width:110.75px;height:30.8px"><span class="t hh m" style="left:5.9px;top:4.2px;font-size:7.0px;">#</span><span class="t hh m" style="left:39.1px;top:4.2px;font-size:6.7px;">RATE</span><span class="t n" style="left:8.7px;top:18.2px;font-size:9.45px;">0</span><span class="t d" style="left:39.1px;top:18.2px;font-size:9.3px;">$</span><span class="t n" style="left:49.8px;top:18.2px;font-size:9.45px;">2630.84</span></div>
<div class="cell" style="left:818.6px;top:92.4px;width:110.75px;height:30.8px"><span class="t hh m" style="left:5.9px;top:4.2px;font-size:7.0px;">#</span><span class="t hh m" style="left:39.1px;top:4.2px;font-size:6.7px;">RATE</span><span class="t n" style="left:8.7px;top:18.2px;font-size:9.45px;">0</span><span class="t d" style="left:39.1px;top:18.2px;font-size:9.3px;">$</span><span class="t n" style="left:49.8px;top:18.2px;font-size:9.45px;">0.00</span></div>
</div>
<div class="panel" id="pepm" style="left:950.1px;top:128.9px;width:308.3px;height:302.7px">
<div class="ph" style="left:0;top:0;width:308.3px;height:24.300px;background:linear-gradient(90deg,#f6f4fd 0%,#f7f7fc 50%,#fafbfc 100%)"><div class="ib" style="left:3.5px;top:2.2px;width:20.9px;height:20.2px;"></div><svg class="ic" viewBox="0 0 16 14" preserveAspectRatio="none" style="left:9.2px;top:7.5px;width:10.4px;height:9.2px;color:#8b5cf6"><g fill="none" stroke="currentColor" stroke-width="2.100" stroke-linecap="round" stroke-linejoin="round"><path d="M1.200 1v10c0 1 .8 1.800 1.800 1.800h12"/><path d="M4.600 8.600 7.400 5.600l2.400 2.300 4-4.500"/></g></svg><span class="t ttl" style="left:33.4px;top:8.1px;font-size:8.45px;">PEPM/PEPY Snapshot</span><svg class="ic" viewBox="0 0 10 10" preserveAspectRatio="none" style="left:273.5px;top:8.2px;width:7px;height:7px;color:#4b5563"><path fill="currentColor" d="M.6 1.200h8.800L5 9.400z"/></svg><svg class="ic" viewBox="0 0 10 10" preserveAspectRatio="none" style="left:291px;top:7.4px;width:7.8px;height:7.8px;color:#4b5563"><path fill="none" stroke="currentColor" stroke-width="1.450" stroke-linecap="round" d="M1 1l8 8M9 1 1 9"/></svg></div>
<div class="hc" style="left:148.7px;top:26.2px;width:79.4px;height:19.4px;"><span class="t" style="left:0px;top:4.9px;font-size:8.5px;width:79.4px;text-align:center;letter-spacing:.12px;">PEPM</span></div>
<div class="hc" style="left:228.1px;top:26.2px;width:79.3px;height:19.4px;border-radius:0 4px 0 0;box-shadow:-.7px 0 0 rgba(255,255,255,.28);"><span class="t" style="left:0px;top:4.9px;font-size:8.5px;width:79.3px;text-align:center;letter-spacing:.12px;">PEPY</span></div>
<div class="rr alt" style="left:1.8px;top:45.6px;width:305.6px;height:18.3px"><u style="left:146.9px;width:79.4px"></u><u style="left:226.3px;width:79.3px"></u><span class="t l m" style="left:4.6px;top:4.5px;font-size:8.4px;">HSA EPO 3000</span><span class="t rv m" style="left:146.9px;top:4.5px;font-size:8.4px;width:79.4px;">$0.00</span><span class="t rv m" style="left:226.3px;top:4.5px;font-size:8.4px;width:79.3px;">$0.00</span></div>
<div class="rr" style="left:1.8px;top:63.9px;width:305.6px;height:18.3px"><u style="left:146.9px;width:79.4px"></u><u style="left:226.3px;width:79.3px"></u><span class="t l m" style="left:4.6px;top:4.2px;font-size:8.4px;">POS Plan</span><span class="t rv m" style="left:146.9px;top:4.2px;font-size:8.4px;width:79.4px;">$0.00</span><span class="t rv m" style="left:226.3px;top:4.2px;font-size:8.4px;width:79.3px;">$0.00</span></div>
<div class="rr alt" style="left:1.8px;top:82.2px;width:305.6px;height:18.3px"><u style="left:146.9px;width:79.4px"></u><u style="left:226.3px;width:79.3px"></u><span class="t l m" style="left:4.6px;top:4.9px;font-size:8.4px;">EPO High Plan</span><span class="t rv m" style="left:146.9px;top:4.9px;font-size:8.4px;width:79.4px;">$0.00</span><span class="t rv m" style="left:226.3px;top:4.9px;font-size:8.4px;width:79.3px;">$0.00</span></div>
<div class="rr" style="left:1.8px;top:100.5px;width:305.6px;height:18.3px"><u style="left:146.9px;width:79.4px"></u><u style="left:226.3px;width:79.3px"></u><span class="t l m" style="left:4.6px;top:4.6px;font-size:8.4px;">EPO Low Plan</span><span class="t rv m" style="left:146.9px;top:4.6px;font-size:8.4px;width:79.4px;">$0.00</span><span class="t rv m" style="left:226.3px;top:4.6px;font-size:8.4px;width:79.3px;">$0.00</span></div>
<div class="rr alt" style="left:1.8px;top:118.8px;width:305.6px;height:18.3px"><u style="left:146.9px;width:79.4px"></u><u style="left:226.3px;width:79.3px"></u><span class="t l m" style="left:4.6px;top:4.3px;font-size:8.4px;">Metro NTL MCP 4500-60</span><span class="t rv m" style="left:146.9px;top:4.3px;font-size:8.4px;width:79.4px;">$0.00</span><span class="t rv m" style="left:226.3px;top:4.3px;font-size:8.4px;width:79.3px;">$0.00</span></div>
<div class="rr" style="left:1.8px;top:137.1px;width:305.6px;height:18.3px"><u style="left:146.9px;width:79.4px"></u><u style="left:226.3px;width:79.3px"></u><span class="t l m" style="left:4.6px;top:5px;font-size:8.4px;">Metro NTL EPO HDHP 4500-70</span><span class="t rv m" style="left:146.9px;top:5px;font-size:8.4px;width:79.4px;">$0.00</span><span class="t rv m" style="left:226.3px;top:5px;font-size:8.4px;width:79.3px;">$0.00</span></div>
<div class="rr alt" style="left:1.8px;top:155.4px;width:305.6px;height:18.3px"><u style="left:146.9px;width:79.4px"></u><u style="left:226.3px;width:79.3px"></u><span class="t l m" style="left:4.6px;top:4.7px;font-size:8.4px;">Metro NTL EPO 2000-60</span><span class="t rv m" style="left:146.9px;top:4.7px;font-size:8.4px;width:79.4px;">$0.00</span><span class="t rv m" style="left:226.3px;top:4.7px;font-size:8.4px;width:79.3px;">$0.00</span></div>
<div class="rr" style="left:1.8px;top:173.7px;width:305.6px;height:18.3px"><u style="left:146.9px;width:79.4px"></u><u style="left:226.3px;width:79.3px"></u><span class="t l m" style="left:4.6px;top:4.4px;font-size:8.4px;">Metro NTL EPO 0-100-45</span><span class="t rv m" style="left:146.9px;top:4.4px;font-size:8.4px;width:79.4px;">$0.00</span><span class="t rv m" style="left:226.3px;top:4.4px;font-size:8.4px;width:79.3px;">$0.00</span></div>
<div class="rr alt" style="left:1.8px;top:192px;width:305.6px;height:31.3px"><u style="left:146.9px;width:79.4px"></u><u style="left:226.3px;width:79.3px"></u><span class="t l m" style="left:4.6px;top:5.1px;font-size:8.4px;">NY G MTRO NG 25/40/1250/80</span><span class="t l m" style="left:4.6px;top:17.1px;font-size:8.4px;">EPO</span><span class="t rv m" style="left:146.9px;top:11.1px;font-size:8.4px;width:79.4px;">$0.00</span><span class="t rv m" style="left:226.3px;top:11.1px;font-size:8.4px;width:79.3px;">$0.00</span></div>
<div class="rr" style="left:1.8px;top:223.3px;width:305.6px;height:31.3px"><u style="left:146.9px;width:79.4px"></u><u style="left:226.3px;width:79.3px"></u><span class="t l m" style="left:4.6px;top:4.8px;font-size:8.4px;">NY G LBTY NG 30/60/1800/70</span><span class="t l m" style="left:4.6px;top:16.8px;font-size:8.4px;">EPO</span><span class="t rv m" style="left:146.9px;top:10.8px;font-size:8.4px;width:79.4px;">$0.00</span><span class="t rv m" style="left:226.3px;top:10.8px;font-size:8.4px;width:79.3px;">$0.00</span></div>
<div class="rr alt" style="left:1.8px;top:254.6px;width:305.6px;height:18.3px"><u style="left:146.9px;width:79.4px"></u><u style="left:226.3px;width:79.3px"></u><span class="t l m" style="left:4.6px;top:4.5px;font-size:8.4px;">NY P FRDM NG 5/15/100 PPO</span><span class="t rv m" style="left:146.9px;top:4.5px;font-size:8.4px;width:79.4px;">$0.00</span><span class="t rv m" style="left:226.3px;top:4.5px;font-size:8.4px;width:79.3px;">$0.00</span></div>
<div class="rr" style="left:1.8px;top:272.9px;width:305.6px;height:18.3px"><u style="left:146.9px;width:79.4px"></u><u style="left:226.3px;width:79.3px"></u><span class="t l m" style="left:4.6px;top:4.2px;font-size:8.4px;">Metro NTL EPO 1000-80</span><span class="t rv m" style="left:146.9px;top:4.2px;font-size:8.4px;width:79.4px;">$0.00</span><span class="t rv m" style="left:226.3px;top:4.2px;font-size:8.4px;width:79.3px;">$0.00</span></div>
</div>
<div class="panel" id="delta" style="left:949.9px;top:444.9px;width:308.7px;height:148.9px">
<div class="ph" style="left:0;top:0;width:308.7px;height:24.300px;background:linear-gradient(90deg,#f6f4fd 0%,#f7f7fc 50%,#fafbfc 100%)"><div class="ib" style="left:3.5px;top:2.2px;width:20.9px;height:20.2px;"></div><svg class="ic" viewBox="0 0 16 16" preserveAspectRatio="none" style="left:9px;top:6.8px;width:11.2px;height:11.2px;color:#7c4fe0"><g fill="none" stroke="currentColor" stroke-width="2.300" stroke-linecap="round"><path d="M13.400 2.600 2.600 13.400"/></g><g fill="currentColor"><circle cx="3.600" cy="3.600" r="2.500"/><circle cx="12.400" cy="12.400" r="2.500"/></g></svg><span class="t ttl" style="left:33.4px;top:8.1px;font-size:8.45px;">Rate Delta Summary</span><svg class="ic" viewBox="0 0 10 10" preserveAspectRatio="none" style="left:273.9px;top:8.2px;width:7px;height:7px;color:#4b5563"><path fill="currentColor" d="M.6 1.200h8.800L5 9.400z"/></svg><svg class="ic" viewBox="0 0 10 10" preserveAspectRatio="none" style="left:291.4px;top:7.4px;width:7.8px;height:7.8px;color:#4b5563"><path fill="none" stroke="currentColor" stroke-width="1.450" stroke-linecap="round" d="M1 1l8 8M9 1 1 9"/></svg></div>
<div class="hc" style="left:136.8px;top:26.2px;width:60.3px;height:19.4px;"><span class="t" style="left:0px;top:4.9px;font-size:8.5px;width:60.3px;text-align:center;letter-spacing:.12px;">Current (EE)</span></div>
<div class="hc" style="left:197.1px;top:26.2px;width:69.2px;height:19.4px;box-shadow:-.7px 0 0 rgba(255,255,255,.28);"><span class="t" style="left:0px;top:4.9px;font-size:8.5px;width:69.2px;text-align:center;letter-spacing:.12px;">Proposed (EE)</span></div>
<div class="hc" style="left:266.3px;top:26.2px;width:41.1px;height:19.4px;border-radius:0 4px 0 0;box-shadow:-.7px 0 0 rgba(255,255,255,.28);"><span class="t" style="left:0px;top:4.9px;font-size:8.5px;width:41.1px;text-align:center;letter-spacing:.12px;">Δ %</span></div>
<div class="rr alt" style="left:1.8px;top:45.6px;width:305.6px;height:18.3px"><u style="left:135px;width:60.3px"></u><u style="left:195.3px;width:69.2px"></u><u style="left:264.5px;width:41.1px"></u><span class="t l m" style="left:4.6px;top:4.5px;font-size:8.4px;">Metro NTL MCP 4500-60</span><span class="t rv m" style="left:135px;top:4.5px;font-size:8.4px;width:60.3px;">$997.50</span><span class="t rv m" style="left:195.3px;top:4.5px;font-size:8.4px;width:69.2px;">$1,021.36</span><span class="t rv m" style="left:264.5px;top:4.5px;font-size:8.4px;width:41.1px;">+2.4%</span></div>
<div class="rr" style="left:1.8px;top:63.9px;width:305.6px;height:18.3px"><u style="left:135px;width:60.3px"></u><u style="left:195.3px;width:69.2px"></u><u style="left:264.5px;width:41.1px"></u><span class="t l m" style="left:4.6px;top:4.2px;font-size:8.4px;">Metro NTL EPO HDHP 4500-70</span><span class="t rv m" style="left:135px;top:4.2px;font-size:8.4px;width:60.3px;">$852.30</span><span class="t rv m" style="left:195.3px;top:4.2px;font-size:8.4px;width:69.2px;">$918.32</span><span class="t rv m" style="left:264.5px;top:4.2px;font-size:8.4px;width:41.1px;">+7.7%</span></div>
<div class="rr alt" style="left:1.8px;top:82.2px;width:305.6px;height:18.3px"><u style="left:135px;width:60.3px"></u><u style="left:195.3px;width:69.2px"></u><u style="left:264.5px;width:41.1px"></u><span class="t l m" style="left:4.6px;top:4.9px;font-size:8.4px;">Metro NTL EPO 2000-60</span><span class="t rv m" style="left:135px;top:4.9px;font-size:8.4px;width:60.3px;">$1,024.08</span><span class="t rv m" style="left:195.3px;top:4.9px;font-size:8.4px;width:69.2px;">$1,128.04</span><span class="t rv m" style="left:264.5px;top:4.9px;font-size:8.4px;width:41.1px;">+10.2%</span></div>
<div class="rr" style="left:1.8px;top:100.5px;width:305.6px;height:18.3px"><u style="left:135px;width:60.3px"></u><u style="left:195.3px;width:69.2px"></u><u style="left:264.5px;width:41.1px"></u><span class="t l m" style="left:4.6px;top:4.6px;font-size:8.4px;">Metro NTL EPO 0-100-45</span><span class="t rv m" style="left:135px;top:4.6px;font-size:8.4px;width:60.3px;">$1,304.93</span><span class="t rv m" style="left:195.3px;top:4.6px;font-size:8.4px;width:69.2px;">$1,511.08</span><span class="t rv m" style="left:264.5px;top:4.6px;font-size:8.4px;width:41.1px;">+15.8%</span></div>
<div class="rr alt" style="left:1.8px;top:118.8px;width:305.6px;height:18.3px"><u style="left:135px;width:60.3px"></u><u style="left:195.3px;width:69.2px"></u><u style="left:264.5px;width:41.1px"></u><span class="t l m" style="left:4.6px;top:4.3px;font-size:8.4px;">Metro NTL EPO 1000-80</span><span class="t rv m" style="left:135px;top:4.3px;font-size:8.4px;width:60.3px;">$1,128.06</span><span class="t rv m" style="left:195.3px;top:4.3px;font-size:8.4px;width:69.2px;">$1,315.44</span><span class="t rv m" style="left:264.5px;top:4.3px;font-size:8.4px;width:41.1px;">+16.6%</span></div>
</div>
<div id="sbt" style="left:1270px;top:0;width:10px;height:605px"><div id="sbh" style="left:2.800px;top:2px;width:5.200px;height:302px"></div></div>
</body></html>
